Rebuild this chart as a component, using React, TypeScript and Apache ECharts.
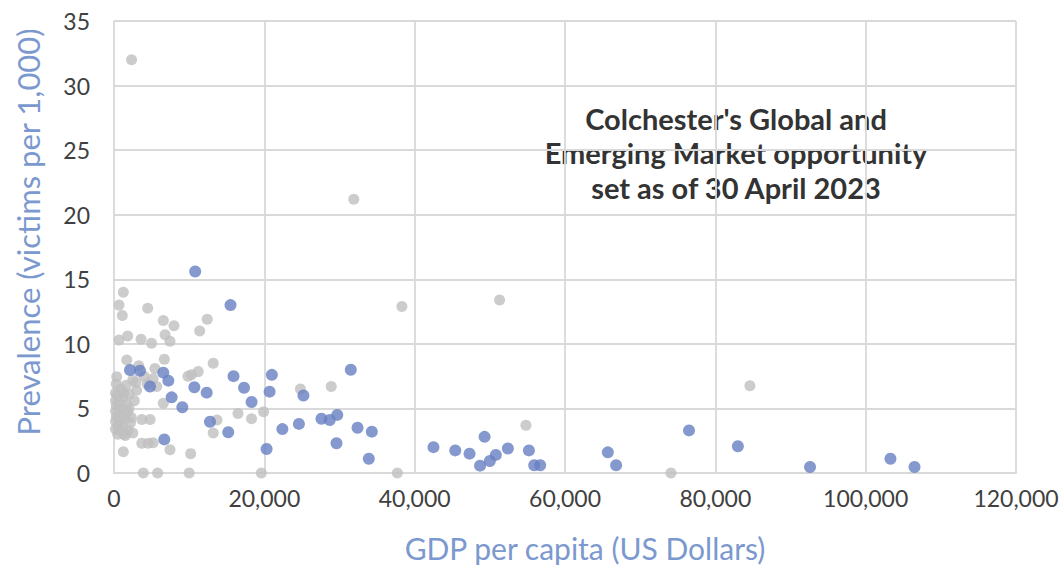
import React, { useEffect, useRef } from "react";
import * as echarts from "echarts";

// Grey: full universe of countries
const greyX = [2340, 31900, 38300, 51300, 84600, 74100, 54800, 37700, 28900, 24800,
  1240, 670, 4480, 1100, 6560, 7980, 12400, 11400, 670, 1820, 3600, 5000, 6800, 7450, 6700, 1700, 360, 5450,
  10300, 11200, 13200, 6560, 5680, 9840, 3700, 4800, 3700, 4560, 5200, 1240, 7450, 10200, 3900, 5800, 10000,
  19600, 16500, 18300, 19900, 13700, 13200,
  300, 900, 1600, 2500, 400, 1200, 2000, 300, 900, 1700, 300, 1000, 1800, 500, 1200, 2200, 500, 1500, 2700,
  3000, 2900, 4000, 4400, 3300, 5200, 800, 1900, 2500,
  200, 200, 200, 200, 200, 700, 700, 700, 1300, 1400, 1300, 2300, 2000];
const greyY = [32.0, 21.2, 12.9, 13.4, 6.76, 0, 3.7, 0, 6.7, 6.5,
  14.0, 13.0, 12.75, 12.2, 11.8, 11.4, 11.9, 11.0, 10.3, 10.6, 10.35, 10.05, 10.7, 10.2, 8.8, 8.75, 7.46, 8.1,
  7.6, 7.85, 8.5, 5.4, 6.7, 7.5, 4.15, 4.15, 2.3, 2.3, 2.35, 1.65, 1.8, 1.5, 0, 0, 0,
  0, 4.6, 4.2, 4.75, 4.1, 3.1,
  6.9, 6.5, 6.8, 7.2, 6.0, 5.8, 6.1, 5.2, 5.0, 5.3, 4.4, 4.5, 4.7, 3.7, 3.5, 3.9, 3.0, 2.9, 5.6,
  6.4, 7.0, 7.5, 6.9, 8.3, 7.3, 4.0, 3.3, 3.1,
  6.2, 5.6, 4.8, 4.0, 3.4, 5.5, 4.2, 3.3, 6.2, 4.2, 3.0, 4.3, 5.0];

// Blue: Colchester's Global and Emerging Market opportunity set
const blueX = [2130, 3460, 6560, 7230, 4790, 7670, 9090, 10690, 12330, 12770, 6690,
  10800, 15500, 15900, 21000, 20700, 17300, 18300, 15200, 20300, 22400, 24600, 25200, 31500, 27600, 28700,
  29700, 32400, 34300, 29600, 33900, 42500, 45400, 47300, 49300, 48700, 50000, 50800, 52400, 55200, 55900,
  56700, 65700, 66800, 76500, 83000, 92600, 103300, 106500];
const blueY = [7.98, 7.92, 7.77, 7.15, 6.7, 5.86, 5.09, 6.64, 6.22, 3.97, 2.6,
  15.6, 13.0, 7.5, 7.6, 6.3, 6.6, 5.5, 3.15, 1.86, 3.4, 3.8, 6.0, 8.0, 4.2, 4.1,
  4.5, 3.5, 3.2, 2.3, 1.1, 2.0, 1.75, 1.5, 2.8, 0.57, 0.93, 1.4, 1.9, 1.75, 0.6,
  0.6, 1.6, 0.6, 3.3, 2.07, 0.46, 1.1, 0.46];

const xTicks = [0, 20000, 40000, 60000, 80000, 100000, 120000];
const yTicks = [0, 5, 10, 15, 20, 25, 30, 35];

const titleLines = ["Colchester's Global and", "Emerging Market opportunity", "set as of 30 April 2023"];
const xTitle = "GDP per capita (US Dollars)";
const yTitle = "Prevalence (victims per 1,000)";

const FONT = "Lato, 'Open Sans', sans-serif";

export default function App() {
  const ref = useRef<HTMLDivElement>(null);
  useEffect(() => {
    if (!ref.current) return;
    const chart = echarts.init(ref.current, null, { renderer: "svg" });
    const grey = greyX.map((x, i) => [x, greyY[i]]);
    const blue = blueX.map((x, i) => [x, blueY[i]]);
    chart.setOption({
      animation: false,
      backgroundColor: "#ffffff",
      grid: {
        left: 114,
        right: 46,
        top: 21,
        bottom: 94,
        containLabel: false,
        outerBoundsMode: "none",
      },
      xAxis: {
        type: "value",
        min: xTicks[0],
        max: xTicks[xTicks.length - 1],
        interval: xTicks[1] - xTicks[0],
        name: xTitle,
        nameLocation: "middle",
        nameGap: 60,
        nameTextStyle: { color: "#7b98cf", fontSize: 30, fontFamily: FONT, padding: [0, 0, 0, 40] },
        axisLine: { show: true, lineStyle: { color: "#d9d9d9", width: 2 } },
        axisTick: { show: false },
        axisLabel: {
          color: "#404040",
          fontSize: 23,
          fontFamily: FONT,
          margin: 13,
          formatter: (v: number) => v.toLocaleString("en-US"),
        },
        splitLine: { show: true, lineStyle: { color: "#d9d9d9", width: 1.8 } },
      },
      yAxis: {
        type: "value",
        min: yTicks[0],
        max: yTicks[yTicks.length - 1],
        interval: yTicks[1] - yTicks[0],
        name: yTitle,
        nameLocation: "middle",
        nameGap: 71,
        nameTextStyle: { color: "#7b98cf", fontSize: 31, fontFamily: FONT, padding: [0, 0, 0, 30] },
        axisLine: { show: false },
        axisTick: { show: false },
        axisLabel: { color: "#404040", fontSize: 23, fontFamily: FONT, margin: 24 },
        splitLine: { show: true, lineStyle: { color: "#d9d9d9", width: 1.8 } },
      },
      graphic: titleLines.map((t, i) => ({
        type: "text",
        x: 736,
        y: 118 + i * 34.5,
        style: {
          text: t,
          textAlign: "center",
          textVerticalAlign: "middle",
          fill: "#333333",
          font: `bold 29px ${FONT}`,
        },
      })),
      series: [
        {
          type: "scatter",
          data: grey,
          symbolSize: 11,
          itemStyle: { color: "#bfbfbf" },
          z: 2,
        },
        {
          type: "scatter",
          data: blue,
          symbolSize: 12,
          itemStyle: { color: "#6680c2" },
          z: 3,
        },
      ],
    });
    return () => chart.dispose();
  }, []);
  return (
    <div
      ref={ref}
      style={{ position: "fixed", left: 0, top: 0, width: 1062, height: 567 }}
    />
  );
}
